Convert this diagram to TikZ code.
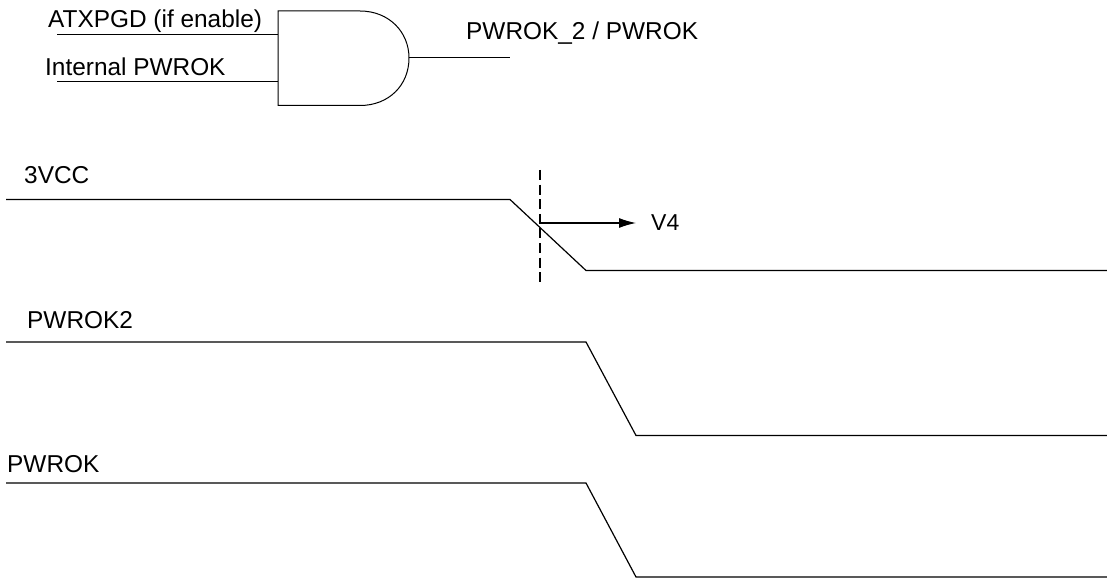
\documentclass[tikz,border=0pt]{standalone}
\usepackage{fontspec}
\setmainfont{Liberation Sans}
\usetikzlibrary{arrows.meta}
\tikzset{
  lbl/.style={anchor=base west,inner sep=0pt,font=\fontsize{24.4}{28}\selectfont,text=black},
  wire/.style={draw=black,line width=1.2pt,line join=miter},
  thin wire/.style={draw=black,line width=1pt}
}
\begin{document}
\begin{tikzpicture}[x=1pt,y=-1pt]
\useasboundingbox (0,0) rectangle (1107,580);
% AND gate
\draw[thin wire] (278,11) -- (360,11) .. controls (389,11) and (409,32) .. (409,58) .. controls (409,85) and (389,105.5) .. (360,105.5) -- (278,105.5) -- cycle;
\coordinate (in1) at (278,34.5);
\coordinate (in2) at (278,82);
\coordinate (out) at (409,58);
\coordinate (in1s) at (57,34.5);
\coordinate (in2s) at (57,82);
\coordinate (oute) at (510,58);
\draw[thin wire] (in1s) -- (in1);
\draw[thin wire] (in2s) -- (in2);
\draw[thin wire] (out) -- (oute);
\node[lbl] (t1) at (48,27.5) {ATXPGD (if enable)};
\node[lbl] (t2) at (45,75.5) {Internal PWROK};
\node[lbl] (t3) at (466,39.5) {PWROK\_2 / PWROK};
% waveforms
\draw[wire] (6,199.5) -- (510,199.5) -- (586,270.5) -- (1107,270.5);
\draw[wire] (6,342) -- (586,342) -- (636,435.5) -- (1107,435.5);
\draw[wire] (6,483) -- (586,483) -- (636,577) -- (1107,577);
\node[lbl] (t4) at (24,183.5) {3VCC};
\node[lbl] (t5) at (27,328.5) {PWROK2};
\node[lbl] (t6) at (7,472) {PWROK};
\node[lbl,font=\fontsize{23}{28}\selectfont] (t7) at (651,230.5) {V4};
% threshold
\coordinate (da) at (540,170);
\coordinate (db) at (540,282);
\coordinate (ar) at (636,223);
\coordinate (as) at (540,223);
\draw[draw=black,line width=2.6pt,dash pattern=on 10pt off 4.6pt] (da) -- (db);
\draw[wire,-{Latex[length=17pt,width=10pt]}] (as) -- (ar);
\end{tikzpicture}
\end{document}
